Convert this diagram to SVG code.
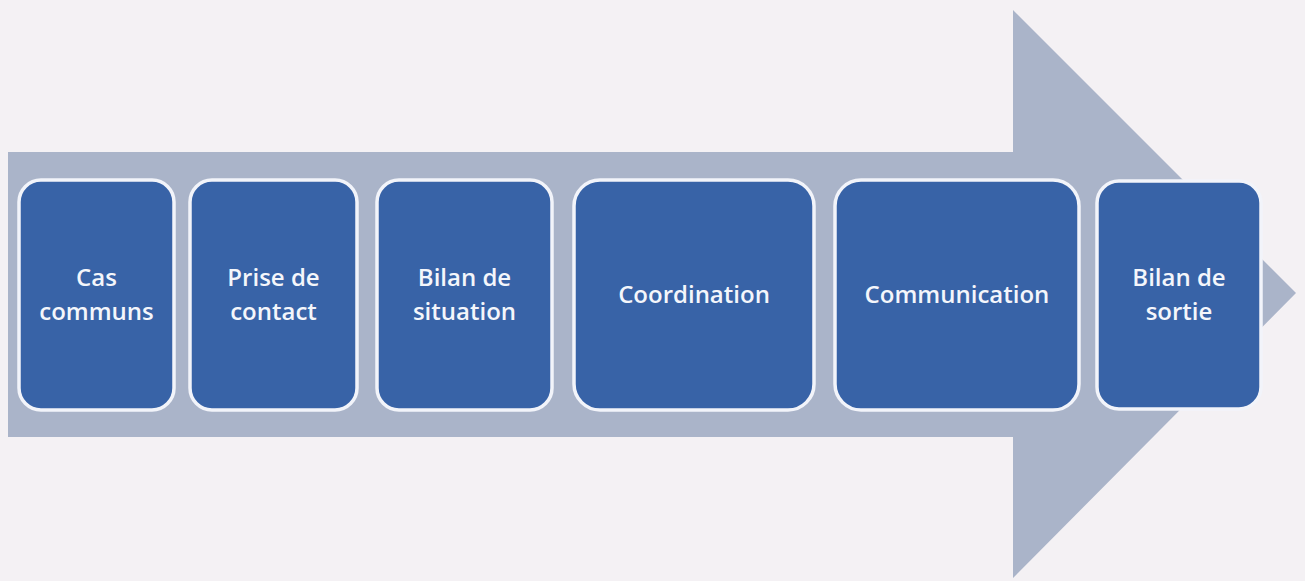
<svg xmlns="http://www.w3.org/2000/svg" width="1305" height="581" viewBox="0 0 1305 581">
  <defs>
    <style>
      .step { fill: #3863a7; stroke: #f2f4fa; stroke-width: 3.5; }
      .label { font-family: "Open Sans", "Liberation Sans", sans-serif; font-weight: 600; font-size: 24px; fill: #f4f6fb; text-anchor: middle; }
    </style>
  </defs>
  <rect x="0" y="0" width="1305" height="581" fill="#f4f1f4"/>

  <!-- large process arrow -->
  <g id="process-arrow">
    <polygon points="8,152 1013,152 1013,10 1296,293 1013,578 1013,437 8,437" fill="#aab4c9"/>
  </g>

  <g id="connectors"/>

  <g id="step-cas-communs">
    <rect class="step" x="19" y="180" width="155" height="230" rx="22"/>
    <text class="label" x="96.5" y="286">Cas</text>
    <text class="label" x="96.5" y="320">communs</text>
  </g>
  <g id="step-prise-de-contact">
    <rect class="step" x="190" y="180" width="167" height="230" rx="22"/>
    <text class="label" x="273.5" y="286">Prise de</text>
    <text class="label" x="273.5" y="320">contact</text>
  </g>
  <g id="step-bilan-de-situation">
    <rect class="step" x="377" y="180" width="175" height="230" rx="22"/>
    <text class="label" x="464.5" y="286">Bilan de</text>
    <text class="label" x="464.5" y="320">situation</text>
  </g>
  <g id="step-coordination">
    <rect class="step" x="574" y="180" width="240" height="230" rx="26"/>
    <text class="label" x="694" y="303">Coordination</text>
  </g>
  <g id="step-communication">
    <rect class="step" x="835" y="180" width="244" height="230" rx="26"/>
    <text class="label" x="957" y="303">Communication</text>
  </g>
  <g id="step-bilan-de-sortie">
    <rect class="step" x="1097" y="181" width="164" height="228" rx="22"/>
    <text class="label" x="1179" y="286">Bilan de</text>
    <text class="label" x="1179" y="320">sortie</text>
  </g>
</svg>
